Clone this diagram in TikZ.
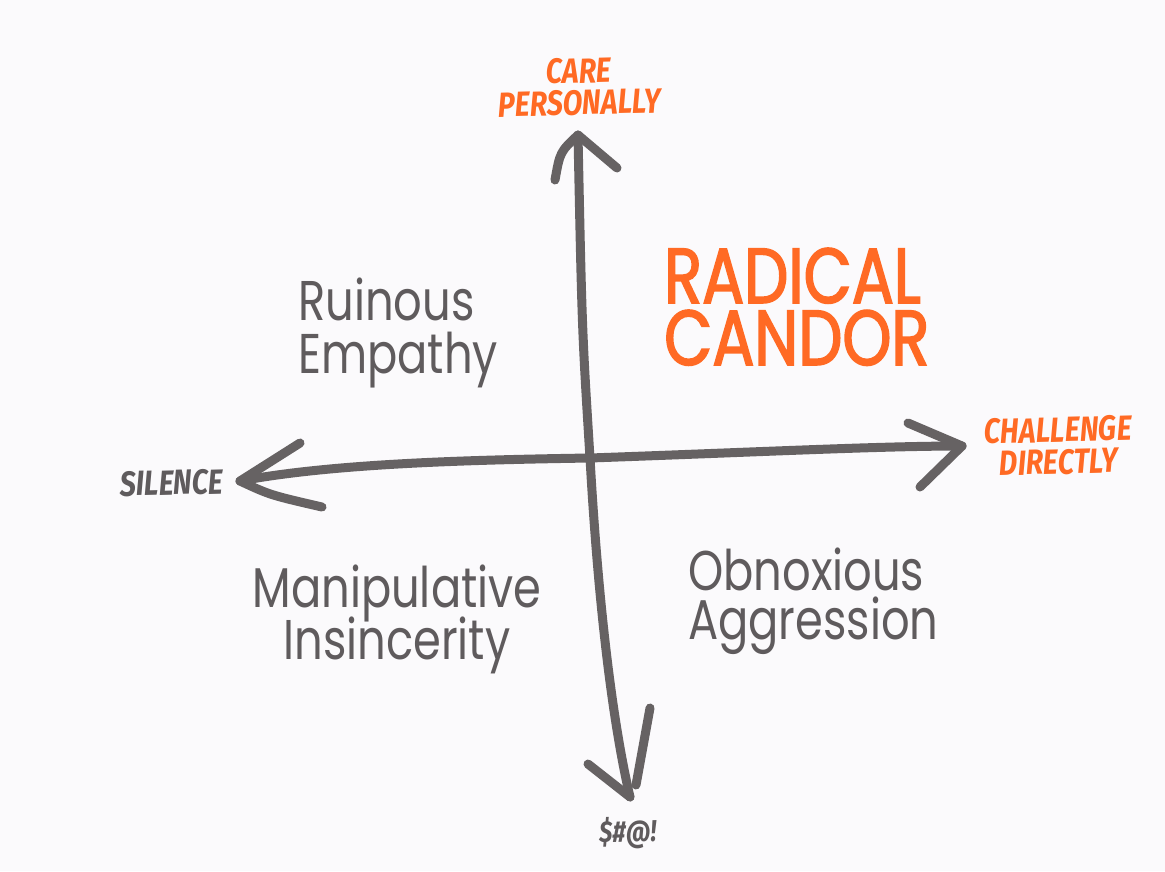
\documentclass[tikz,border=0pt]{standalone}
\usepackage{fontspec}
\newfontfamily\axisfont{Fira Sans}[FakeStretch=0.82]
\newfontfamily\handfont{Poppins}[FakeStretch=0.8]
\newfontfamily\bigfont{Poppins}[FakeStretch=0.8, FakeBold=2]
\newcommand\looselines{\setlength{\lineskiplimit}{-50pt}\setlength{\lineskip}{0pt}}
\definecolor{paper}{HTML}{FBFAFC}
\definecolor{candor}{HTML}{FF6A24}
\definecolor{ink}{HTML}{5F5B5D}
\definecolor{axisgray}{HTML}{666263}
\begin{document}
\begin{tikzpicture}[x=1pt,y=-1pt,
  axisline/.style={draw=axisgray, line width=9pt, line cap=round, line join=round},
  axislabel/.style={inner sep=0pt, anchor=base, rotate=1.5, align=center,
    font={\axisfont\bfseries\itshape\fontsize{35}{32}\selectfont\looselines}},
  quadlabel/.style={inner sep=0pt, text=ink},
  biglabel/.style={inner sep=0pt, anchor=base west, align=left, text=candor,
    font={\bigfont\fontsize{78}{62}\selectfont\looselines}}]
  % canvas
  \fill[paper] (0,0) rectangle (1165,871);
  \useasboundingbox (0,0) rectangle (1165,871);

  % axis end points and barbs
  \coordinate (cpTip) at (578,135);
  \coordinate (sdTip) at (630,797);
  \coordinate (siTip) at (240,481);
  \coordinate (cdTip) at (962,446);
  \coordinate (cross) at (590,458);
  \coordinate (cpL) at (555,180);
  \coordinate (cpR) at (617,168);
  \coordinate (sdL) at (588,764);
  \coordinate (sdR1) at (636,785);
  \coordinate (sdR2) at (650,708);
  \coordinate (siU) at (300,443);
  \coordinate (siD) at (322,507);
  \coordinate (cdU) at (908,423);
  \coordinate (cdD) at (920,487);

  % vertical axis
  \draw[axisline] (cpTip) .. controls (582,330) .. (cross)
    .. controls (598,600) and (612,720) .. (sdTip);
  \draw[axisline] (cpL) .. controls (560,152) .. (cpTip) -- (cpR);
  \draw[axisline] (sdL) -- (sdTip);
  \draw[axisline] (sdR1) -- (sdR2);

  % horizontal axis
  \draw[axisline] (siTip) .. controls (330,464) and (460,460) .. (cross)
    .. controls (760,452) and (880,446) .. (cdTip);
  \draw[axisline] (siU) -- (siTip) .. controls (270,495) .. (siD);
  \draw[axisline] (cdU) -- (cdTip) -- (cdD);

  % axis labels (anchored at the baseline of their last line)
  \node[axislabel, text=candor] (care) at (580,115) {CARE\\PERSONALLY};
  \node[axislabel, text=candor] (challenge) at (1059,474) {CHALLENGE\\DIRECTLY};
  \node[axislabel, text=ink] (silence) at (172,495) {SILENCE};
  \node[axislabel, text=ink,
    font={\axisfont\bfseries\itshape\fontsize{30}{36}\selectfont}]
    (swear) at (628,842) {\$\#@!};

  % quadrant names
  \node[biglabel] (radical) at (664,365) {RADICAL\\CANDOR};
  \node[quadlabel, anchor=base west, align=left,
    font={\handfont\fontsize{56}{53}\selectfont\looselines}]
    (ruinous) at (298,373) {Ruinous\\Empathy};
  \node[quadlabel, anchor=base, align=center,
    font={\handfont\fontsize{56}{52}\selectfont\looselines}]
    (manip) at (397,659) {Manipulative\\Insincerity};
  \node[quadlabel, anchor=base west, align=left,
    font={\handfont\fontsize{56}{49}\selectfont\looselines}]
    (obnox) at (688,639) {Obnoxious\\Aggression};
\end{tikzpicture}
\end{document}
